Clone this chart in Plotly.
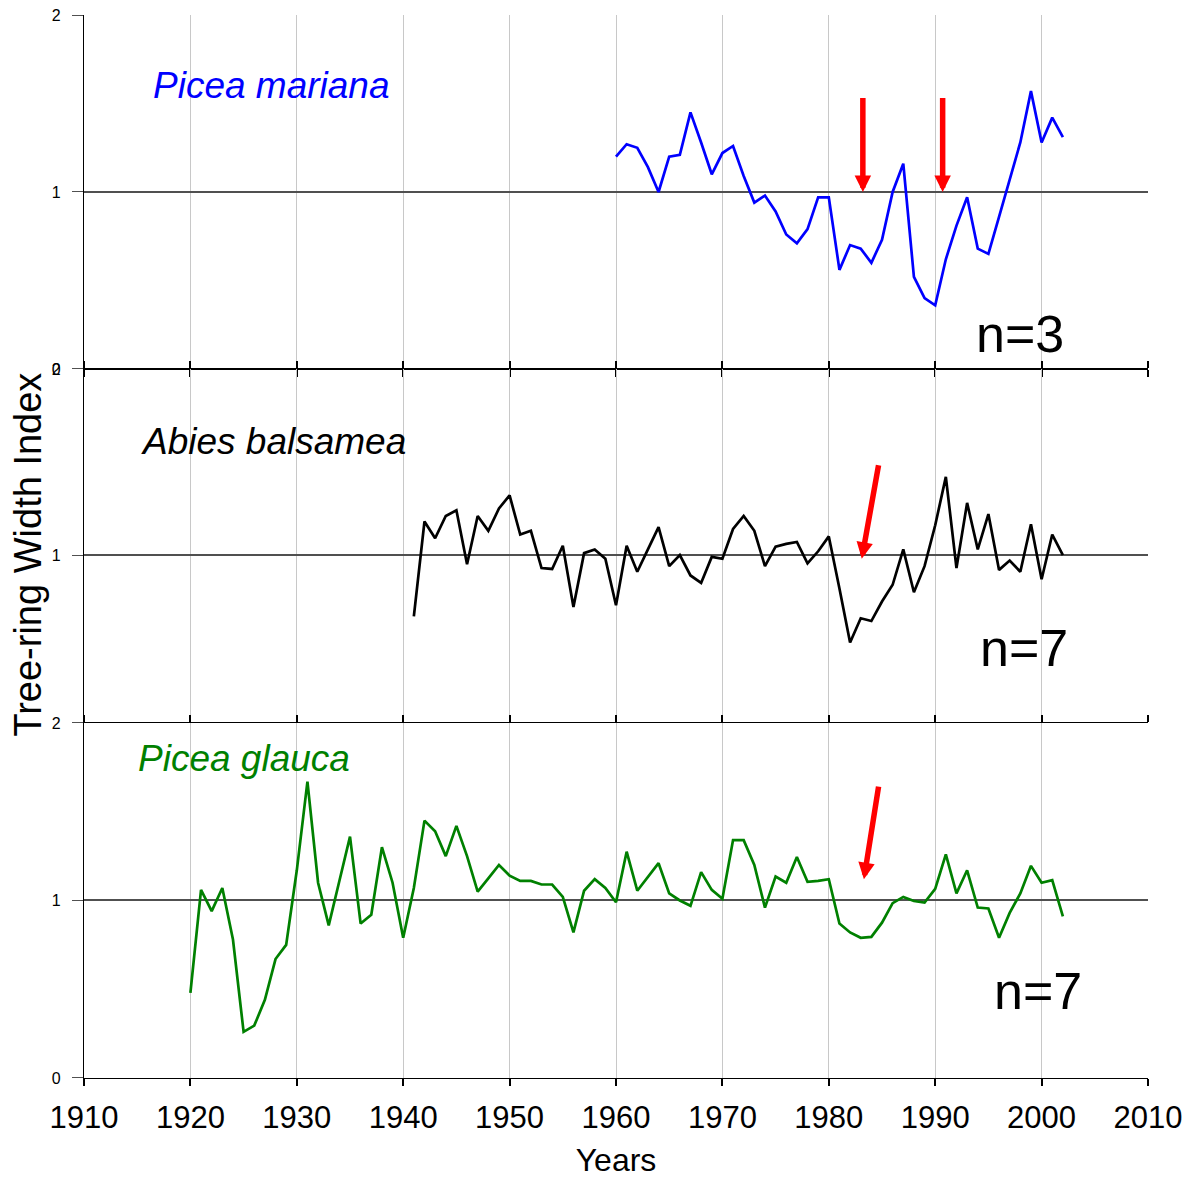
import plotly.graph_objects as go

# ---------------- data ----------------
years_mariana = list(range(1960, 2003))
mariana = [1.20, 1.27, 1.25, 1.14, 1.00, 1.20, 1.21, 1.45, 1.28, 1.10, 1.22, 1.26, 1.09, 0.94,
           0.98, 0.89, 0.76, 0.71, 0.79, 0.97, 0.97, 0.56, 0.70, 0.68, 0.60, 0.73, 1.00, 1.16,
           0.52, 0.40, 0.36, 0.62, 0.81, 0.97, 0.68, 0.65, 0.86, 1.07, 1.28, 1.57, 1.28, 1.42, 1.31]

years_abies = list(range(1941, 2003))
abies = [0.67, 1.18, 1.09, 1.21, 1.24, 0.95, 1.21, 1.13, 1.25, 1.32, 1.11, 1.13, 0.93, 0.925,
         1.05, 0.72, 1.01, 1.03, 0.98, 0.73, 1.05, 0.91, 1.03, 1.15, 0.94, 1.00, 0.89, 0.85,
         0.99, 0.98, 1.14, 1.21, 1.13, 0.94, 1.045, 1.06, 1.07, 0.955, 1.02, 1.10, 0.82, 0.53,
         0.66, 0.645, 0.75, 0.84, 1.03, 0.80, 0.94, 1.16, 1.42, 0.93, 1.28, 1.03, 1.22, 0.92,
         0.97, 0.91, 1.165, 0.87, 1.11, 1.00]

years_glauca = list(range(1920, 2003))
glauca = [0.48, 1.06, 0.94, 1.07, 0.78, 0.26, 0.295, 0.44, 0.67, 0.75, 1.17, 1.67, 1.10, 0.86,
          1.11, 1.36, 0.87, 0.92, 1.30, 1.10, 0.79, 1.07, 1.45, 1.39, 1.25, 1.42, 1.25, 1.05,
          1.125, 1.20, 1.14, 1.11, 1.11, 1.09, 1.09, 1.02, 0.82, 1.055, 1.12, 1.07, 0.99, 1.275,
          1.055, 1.135, 1.21, 1.04, 1.00, 0.97, 1.16, 1.06, 1.01, 1.34, 1.34, 1.20, 0.96, 1.135,
          1.10, 1.245, 1.105, 1.11, 1.12, 0.87, 0.82, 0.79, 0.795, 0.875, 0.985, 1.02, 0.997,
          0.988, 1.065, 1.26, 1.04, 1.17, 0.96, 0.955, 0.79, 0.93, 1.04, 1.195, 1.10, 1.115, 0.91]

species = ["Picea mariana", "Abies balsamea", "Picea glauca"]
sample_sizes = ["n=3", "n=7", "n=7"]
colors = ["#0000FF", "#000000", "#008000"]

# arrows: (tip year, tip value, tail year, tail value)
arrows_p1 = [(1983.2, 1.0, 1983.2, 1.54), (1990.7, 1.0, 1990.7, 1.54)]
arrows_p2 = [(1983.1, 0.98, 1984.7, 1.49)]
arrows_p3 = [(1983.3, 1.12, 1984.7, 1.65)]

x_ticks = list(range(1910, 2011, 10))

# ---------------- figure ----------------
FONT = "Liberation Sans, Arial, sans-serif"
fig = go.Figure()

series = [(years_mariana, mariana, "x", "y"),
          (years_abies, abies, "x2", "y2"),
          (years_glauca, glauca, "x3", "y3")]
for (xs, ys, xa, ya), col, name in zip(series, colors, species):
    fig.add_trace(go.Scatter(x=xs, y=ys, mode="lines", name=name,
                             line=dict(color=col, width=2.7), xaxis=xa, yaxis=ya,
                             showlegend=False))

grid_x = dict(range=[1910, 2010], tickvals=x_ticks, showgrid=True, gridcolor="#c8c8c8",
              gridwidth=1, zeroline=False, showline=True, linecolor="#000000", linewidth=1.3,
              ticks="outside", ticklen=7, tickcolor="#000000", tickwidth=1.5, automargin=False,
              ticklabeloverflow="allow")

# page body adds an 8px offset; the figure is sized to compensate
fig.update_layout(
    width=1182, height=1170,
    margin=dict(l=76, r=42, t=7, b=100, autoexpand=False),
    paper_bgcolor="white", plot_bgcolor="white",
    font=dict(family=FONT, color="black"),
    xaxis=dict(**grid_x, anchor="y", showticklabels=False),
    xaxis2=dict(**grid_x, anchor="y2", side="top", showticklabels=False),
    xaxis3=dict(**grid_x, anchor="y3", showticklabels=True, mirror="ticks",
                tickfont=dict(size=31, family=FONT), ticklabelstandoff=5,
                title=dict(text="Years", font=dict(size=32, family=FONT), standoff=15)),
)

ax_y = dict(range=[0, 2], showgrid=True, gridcolor="#505050", gridwidth=1.5, zeroline=False,
            showline=True, linecolor="#000000", linewidth=1.3, ticks="outside", ticklen=11,
            tickcolor="#505050", tickfont=dict(size=16, family=FONT), automargin=False,
            ticklabelstandoff=8, ticklabeloverflow="allow")
fig.update_layout(
    yaxis=dict(**ax_y, domain=[0.6670, 1.0], anchor="x", tickvals=[0, 1, 2]),
    yaxis2=dict(**ax_y, domain=[0.3170, 0.6670], anchor="x2", tickvals=[1, 2]),
    yaxis3=dict(**ax_y, domain=[0.0, 0.3340], anchor="x3", tickvals=[0, 1, 2]),
)

# y-axis title
fig.add_annotation(text="Tree-ring Width Index", xref="paper", yref="paper",
                   x=-0.053, y=0.492, xanchor="center", yanchor="middle",
                   textangle=-90, showarrow=False,
                   font=dict(size=38, family=FONT, color="black"))

# species names and sample sizes
name_pos = [(1927.6, 1.60, "x", "y"), (1927.8, 1.61, "x2", "y2"), (1925.0, 1.80, "x3", "y3")]
n_pos = [(1998.0, 0.195, "x", "y"), (1998.3, 0.50, "x2", "y2"), (1999.7, 0.49, "x3", "y3")]
for (px, py, xr, yr), txt, col in zip(name_pos, species, colors):
    fig.add_annotation(text="<i>%s</i>" % txt, x=px, y=py, xref=xr, yref=yr, showarrow=False,
                       font=dict(size=37, family=FONT, color=col))
for (px, py, xr, yr), txt in zip(n_pos, sample_sizes):
    fig.add_annotation(text=txt, x=px, y=py, xref=xr, yref=yr, showarrow=False,
                       font=dict(size=52, family=FONT, color="black"))

# red arrows
for arr, xr, yr in [(arrows_p1, "x", "y"), (arrows_p2, "x2", "y2"), (arrows_p3, "x3", "y3")]:
    for tx, ty, sx, sy in arr:
        fig.add_annotation(x=tx, y=ty, ax=sx, ay=sy, xref=xr, yref=yr, axref=xr, ayref=yr,
                           text="", showarrow=True, arrowhead=2, arrowsize=0.6,
                           arrowwidth=5.5, arrowcolor="#FF0000", standoff=0)

fig.write_html("out.html")
